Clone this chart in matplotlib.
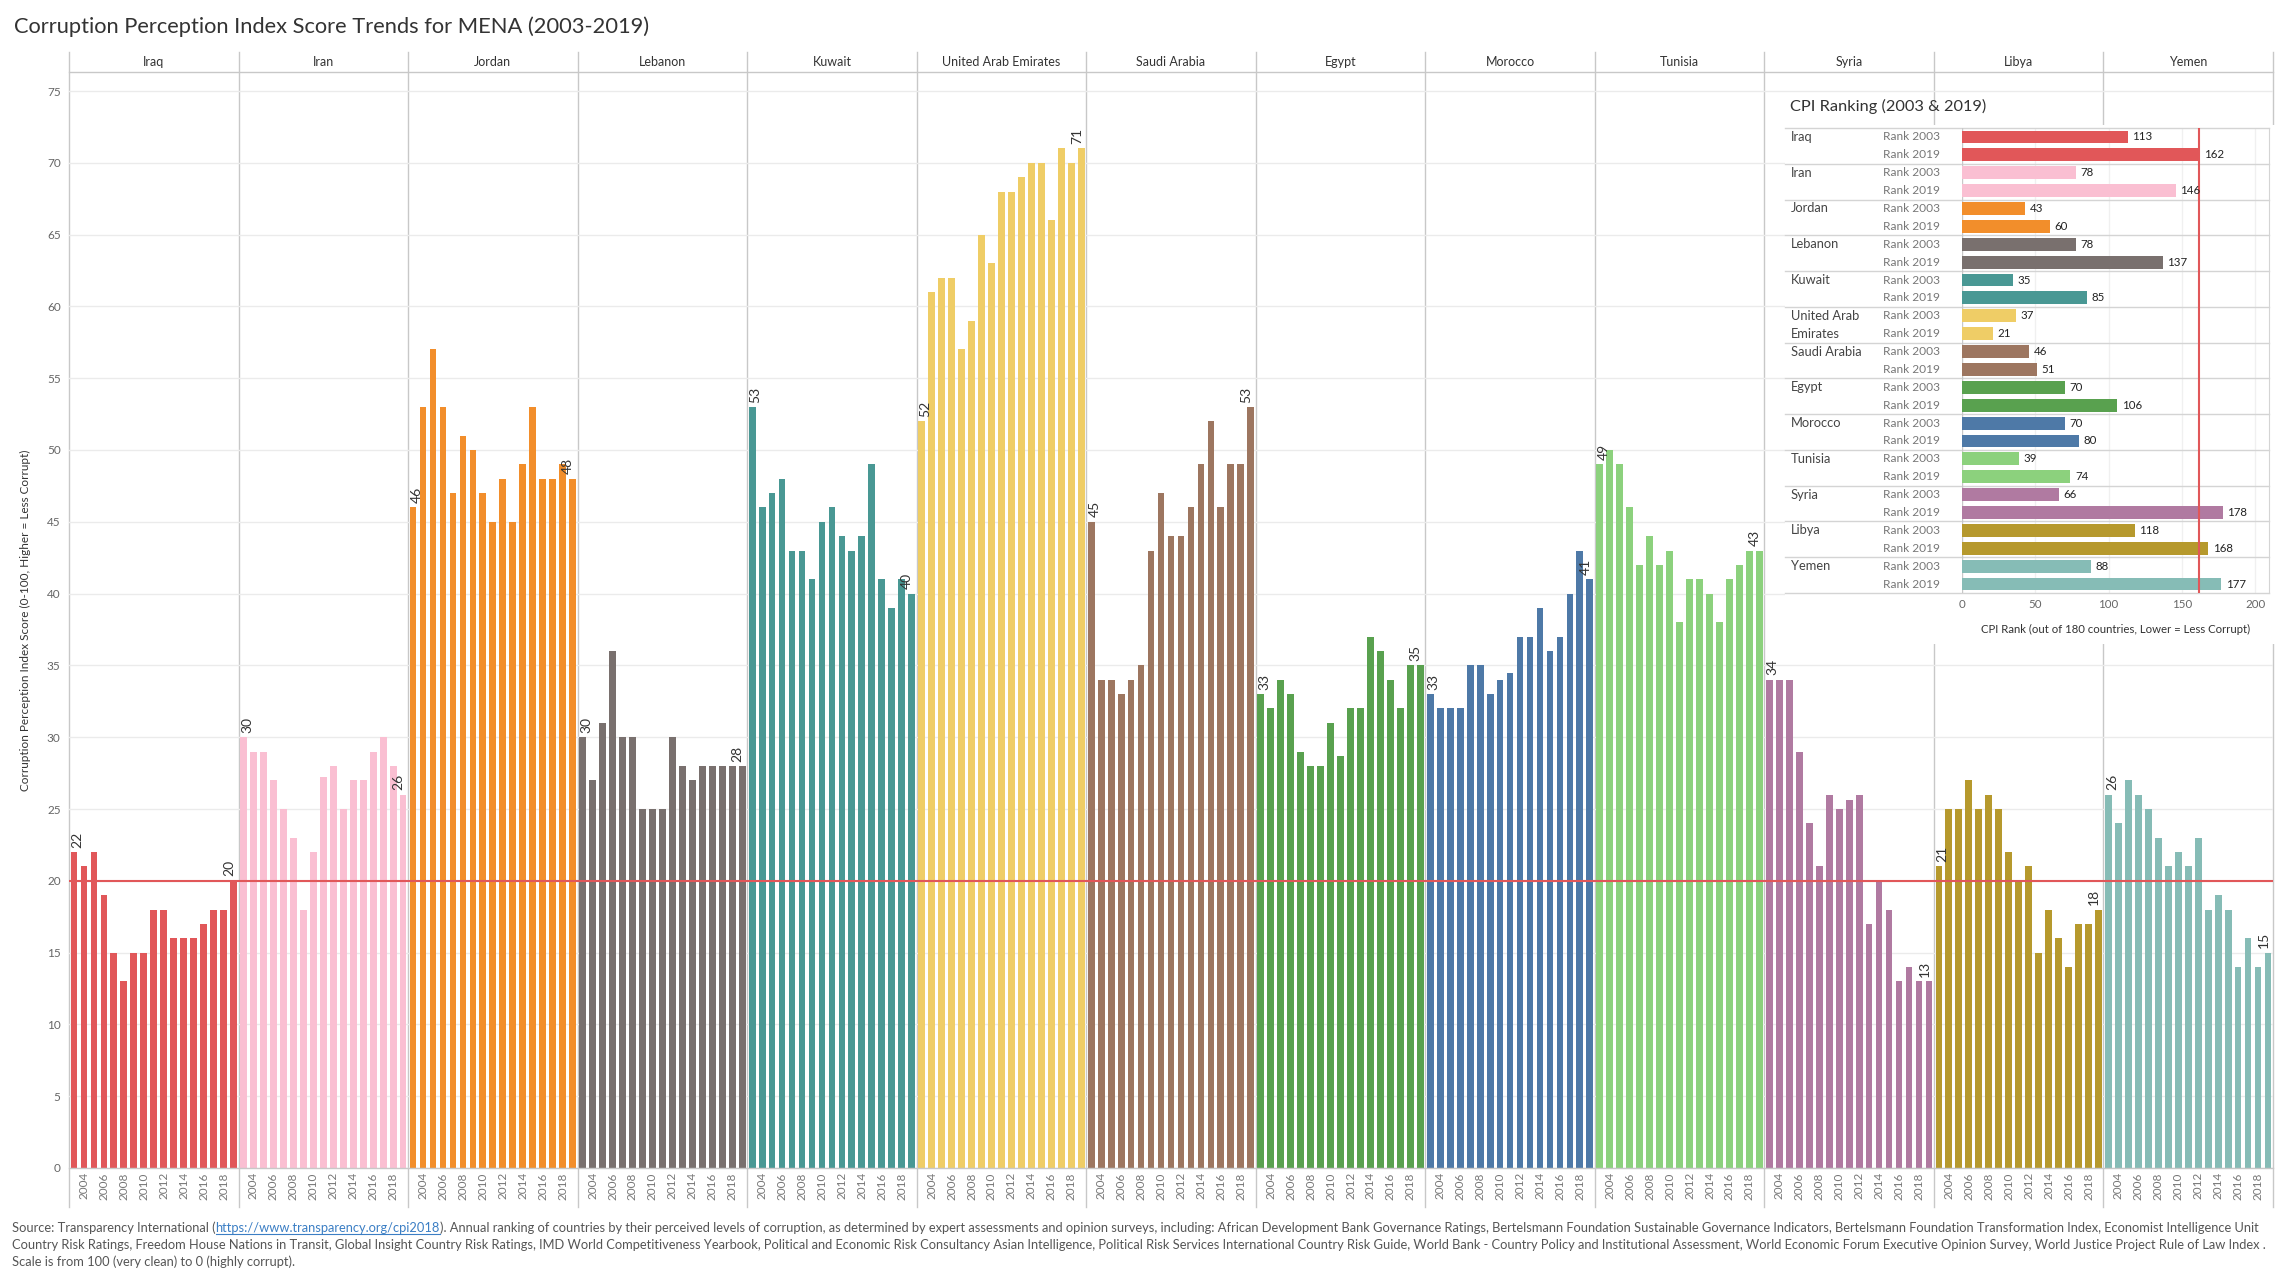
import matplotlib
matplotlib.use("Agg")
import matplotlib.pyplot as plt
import numpy as np

plt.rcParams['font.family'] = ['Lato', 'DejaVu Sans']

# ---------------- data ----------------
countries = ['Iraq', 'Iran', 'Jordan', 'Lebanon', 'Kuwait', 'United Arab Emirates',
             'Saudi Arabia', 'Egypt', 'Morocco', 'Tunisia', 'Syria', 'Libya', 'Yemen']
years = list(range(2003, 2020))

iraq = [22, 21, 22, 19, 15, 13, 15, 15, 18, 18, 16, 16, 16, 17, 18, 18, 20]
iran = [30, 29, 29, 27, 25, 23, 18, 22, 27.2, 28, 25, 27, 27, 29, 30, 28, 26]
jordan = [46, 53, 57, 53, 47, 51, 50, 47, 45, 48, 45, 49, 53, 48, 48, 49, 48]
lebanon = [30, 27, 31, 36, 30, 30, 25, 25, 25, 30, 28, 27, 28, 28, 28, 28, 28]
kuwait = [53, 46, 47, 48, 43, 43, 41, 45, 46, 44, 43, 44, 49, 41, 39, 41, 40]
uae = [52, 61, 62, 62, 57, 59, 65, 63, 68, 68, 69, 70, 70, 66, 71, 70, 71]
saudi = [45, 34, 34, 33, 34, 35, 43, 47, 44, 44, 46, 49, 52, 46, 49, 49, 53]
egypt = [33, 32, 34, 33, 29, 28, 28, 31, 28.7, 32, 32, 37, 36, 34, 32, 35, 35]
morocco = [33, 32, 32, 32, 35, 35, 33, 34, 34.5, 37, 37, 39, 36, 37, 40, 43, 41]
tunisia = [49, 50, 49, 46, 42, 44, 42, 43, 38, 41, 41, 40, 38, 41, 42, 43, 43]
syria = [34, 34, 34, 29, 24, 21, 26, 25, 25.6, 26, 17, 20, 18, 13, 14, 13, 13]
libya = [21, 25, 25, 27, 25, 26, 25, 22, 20, 21, 15, 18, 16, 14, 17, 17, 18]
yemen = [26, 24, 27, 26, 25, 23, 21, 22, 21, 23, 18, 19, 18, 14, 16, 14, 15]
scores = [iraq, iran, jordan, lebanon, kuwait, uae, saudi, egypt, morocco,
          tunisia, syria, libya, yemen]

reference_score = 20

inset_names = ['Iraq', 'Iran', 'Jordan', 'Lebanon', 'Kuwait', 'United Arab\nEmirates',
               'Saudi Arabia', 'Egypt', 'Morocco', 'Tunisia', 'Syria', 'Libya', 'Yemen']
rank_2003 = [113, 78, 43, 78, 35, 37, 46, 70, 70, 39, 66, 118, 88]
rank_2019 = [162, 146, 60, 137, 85, 21, 51, 106, 80, 74, 178, 168, 177]
rank_reference = 162
rank_ticks = [0, 50, 100, 150, 200]

colors = ['#e15759', '#fabfd2', '#f28e2b', '#79706e', '#499894', '#efcd66',
          '#9d7660', '#59a14f', '#4e79a7', '#8cd17d', '#b07aa1', '#b6992d', '#86bcb6']

title = 'Corruption Perception Index Score Trends for MENA (2003-2019)'
ylabel = 'Corruption Perception Index Score (0-100, Higher = Less Corrupt)'
inset_title = 'CPI Ranking (2003 & 2019)'
inset_xlabel = 'CPI Rank (out of 180 countries, Lower = Less Corrupt)'

foot1a = 'Source: Transparency International ('
foot_url = 'https://www.transparency.org/cpi2018'
foot1b = ('). Annual ranking of countries by their perceived levels of corruption, as determined by '
          'expert assessments and opinion surveys, including: African Development Bank Governance Ratings, '
          'Bertelsmann Foundation Sustainable Governance Indicators, Bertelsmann Foundation Transformation Index, '
          'Economist Intelligence Unit')
foot2 = ('Country Risk Ratings, Freedom House Nations in Transit, Global Insight Country Risk Ratings, '
         'IMD World Competitiveness Yearbook, Political and Economic Risk Consultancy Asian Intelligence, '
         'Political Risk Services International Country Risk Guide, World Bank - Country Policy and '
         'Institutional Assessment, World Economic Forum Executive Opinion Survey, World Justice Project '
         'Rule of Law Index .')
foot3 = 'Scale is from 100 (very clean) to 0 (highly corrupt).'

# ---------------- layout helpers ----------------
W, H = 2285, 1284
fig = plt.figure(figsize=(W / 100, H / 100), dpi=100)
fig.patch.set_facecolor('white')


def fbox(x0, y0, x1, y1):
    return [x0 / W, 1 - y1 / H, (x1 - x0) / W, (y1 - y0) / H]


AX_L, AX_R, AX_T, AX_B = 69, 2273, 72, 1168
NY = len(years)
NC = len(countries)
GRID = '#c8c8c8'

# overlay (pixel coordinates) for decorations
ov = fig.add_axes([0, 0, 1, 1], zorder=0)
ov.set_xlim(0, W)
ov.set_ylim(H, 0)
ov.axis('off')

# ---------------- main chart ----------------
ax = fig.add_axes(fbox(AX_L, AX_T, AX_R, AX_B), zorder=1)
ax.patch.set_alpha(0)
for i, vals in enumerate(scores):
    x = np.arange(NY) + i * NY
    ax.bar(x, vals, width=0.68, color=colors[i], zorder=2)
    ax.text(x[0] + 0.35, vals[0] + 0.3, f'{vals[0]:g}', rotation=90, ha='center',
            va='bottom', fontsize=10, color='#333333', zorder=4)
    ax.text(x[-1] - 0.45, vals[-1] + 0.3, f'{vals[-1]:g}', rotation=90, ha='center',
            va='bottom', fontsize=10, color='#333333', zorder=4)

ax.axhline(reference_score, color='#e15759', lw=1.5, zorder=3)
ax.set_xlim(-0.5, NC * NY - 0.5)
ax.set_ylim(0, (AX_B - AX_T) / 14.36)
ax.set_yticks(range(0, 80, 5))
ax.yaxis.grid(True, color='#ebebeb', lw=1)
ax.set_axisbelow(True)
ax.tick_params(axis='y', length=0, pad=6, labelsize=8.5, labelcolor='#666666')

xt, xl = [], []
for i in range(NC):
    for j, yr in enumerate(years):
        if yr % 2 == 0:
            xt.append(i * NY + j)
            xl.append(str(yr))
ax.set_xticks(xt)
ax.set_xticklabels(xl, rotation=90)
ax.tick_params(axis='x', length=0, pad=3, labelsize=8.5, labelcolor='#777777')
for s in ['left', 'right']:
    ax.spines[s].set_visible(False)
for s in ['top', 'bottom']:
    ax.spines[s].set_color(GRID)
    ax.spines[s].set_linewidth(1)

# separators & headers
pw = (AX_R - AX_L) / NC
for k in range(NC + 1):
    xp = AX_L + k * pw
    ov.plot([xp, xp], [52, 1207], color=GRID, lw=1)
for i, c in enumerate(countries):
    ov.text(AX_L + (i + 0.5) * pw, 62, c, ha='center', va='center', fontsize=9,
            color='#333333')

ov.text(25, (AX_T + AX_B) / 2, ylabel, rotation=90, ha='center', va='center',
        fontsize=8.5, color='#333333')

# title, fitted to reference width
renderer = fig.canvas.get_renderer()


def fit(txt, target, fs0):
    w = txt.get_window_extent(renderer).width
    txt.set_fontsize(fs0 * target / w)


t = ov.text(14, 27, title, ha='left', va='center', fontsize=14, color='#333333')
fit(t, 640, 14)

# ---------------- inset ----------------
bg = fig.add_axes(fbox(1785, 125, 2275, 644), zorder=5)
bg.set_facecolor('white')
bg.set_xticks([])
bg.set_yticks([])
for s in bg.spines.values():
    s.set_visible(False)

IX0, IX1, IY0, IY1 = 1962, 2269, 128, 593
PXR = 1.466
iax = fig.add_axes(fbox(IX0, IY0, IX1, IY1), zorder=6)
iax.patch.set_alpha(0)
iax.set_xlim(0, (IX1 - IX0) / PXR)
iax.set_ylim(2 * NC, 0)
ROWPX = (IY1 - IY0) / (2 * NC)


def px2d(px):
    return (px - IX0) / PXR


for g in range(NC):
    y03, y19 = 2 * g + 0.5, 2 * g + 1.5
    iax.barh(y03, rank_2003[g], height=0.72, color=colors[g], zorder=2)
    iax.barh(y19, rank_2019[g], height=0.72, color=colors[g], zorder=2)
    iax.text(rank_2003[g] + 3, y03, str(rank_2003[g]), va='center', ha='left',
             fontsize=8.3, color='#222222', zorder=4)
    iax.text(rank_2019[g] + 3, y19, str(rank_2019[g]), va='center', ha='left',
             fontsize=8.3, color='#222222', zorder=4)
    for li, line in enumerate(inset_names[g].split('\n')):
        iax.text(px2d(1791), 2 * g + 0.5 + li, line, va='center', ha='left',
                 fontsize=9.3, color='#444444', clip_on=False)
    iax.text(px2d(1940), y03, 'Rank 2003', va='center', ha='right', fontsize=8.6,
             color='#777777', clip_on=False)
    iax.text(px2d(1940), y19, 'Rank 2019', va='center', ha='right', fontsize=8.6,
             color='#777777', clip_on=False)

for g in range(NC + 1):
    iax.plot([px2d(1785), px2d(IX1)], [2 * g, 2 * g], color='#d4d4d4', lw=1,
             clip_on=False, zorder=1)
iax.axvline(0, color=GRID, lw=1, zorder=1)
for v in rank_ticks[1:]:
    iax.axvline(v, color='#f0f0f0', lw=1, zorder=0)
iax.axvline(rank_reference, color='#e15759', lw=1.5, zorder=3)
iax.set_xticks(rank_ticks)
iax.set_yticks([])
iax.tick_params(axis='x', length=0, pad=4, labelsize=8.3, labelcolor='#666666')
for s in ['top', 'bottom', 'left']:
    iax.spines[s].set_visible(False)
iax.spines['right'].set_color('#d4d4d4')
iax.text(0.5, -(629 - IY1) / (IY1 - IY0), inset_xlabel, transform=iax.transAxes,
         ha='center', va='center', fontsize=8.2, color='#333333', clip_on=False)
iax.text(px2d(1790), -(IY0 - 106) / ROWPX, inset_title, ha='left', va='center',
         fontsize=11.8, color='#333333', clip_on=False)

# ---------------- footer ----------------
FC = '#555555'
fy = [1228, 1245, 1262]
ta = ov.text(12, fy[0], foot1a, fontsize=8, color=FC, va='center', ha='left')
tu = ov.text(0, fy[0], foot_url, fontsize=8, color='#3b7ec4', va='center', ha='left')
tb = ov.text(0, fy[0], foot1b, fontsize=8, color=FC, va='center', ha='left')
t2 = ov.text(12, fy[1], foot2, fontsize=8, color=FC, va='center', ha='left')
t3 = ov.text(12, fy[2], foot3, fontsize=8, color=FC, va='center', ha='left')

tot = sum(t_.get_window_extent(renderer).width for t_ in (ta, tu, tb))
fs = 8 * 2262 / tot
for t_ in (ta, tu, tb, t2, t3):
    t_.set_fontsize(fs)
wa = ta.get_window_extent(renderer).width
wu = tu.get_window_extent(renderer).width
tu.set_x(12 + wa)
tb.set_x(12 + wa + wu)
ov.plot([12 + wa, 12 + wa + wu], [fy[0] + 6, fy[0] + 6], color='#3b7ec4', lw=0.8)

fig.savefig('out.png', dpi=100, facecolor='white')
